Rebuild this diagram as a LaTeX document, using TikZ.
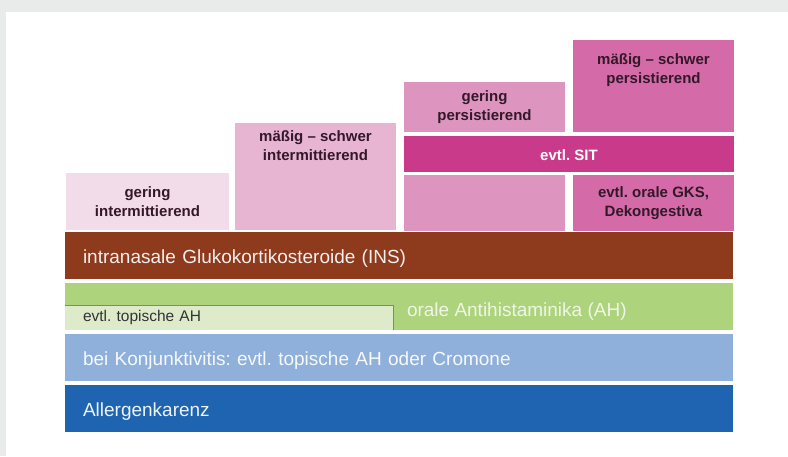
\documentclass[tikz,border=0pt]{standalone}
\usepackage{fontspec}
\setmainfont{Liberation Sans}
\usetikzlibrary{positioning}

\definecolor{hinter}{HTML}{E9EAEA}
\definecolor{gicol}{HTML}{F3DCE9}
\definecolor{micol}{HTML}{E7B5D1}
\definecolor{gpcol}{HTML}{DD95BF}
\definecolor{mpcol}{HTML}{D46BA8}
\definecolor{sitcol}{HTML}{C93A8B}
\definecolor{stufetext}{HTML}{33182A}
\definecolor{inscol}{HTML}{8E3A1D}
\definecolor{ahcol}{HTML}{ADD37D}
\definecolor{tahcol}{HTML}{DDEBCB}
\definecolor{tahrand}{HTML}{6F9A48}
\definecolor{konjcol}{HTML}{8FB0DA}
\definecolor{akcol}{HTML}{1F64B0}

\frenchspacing

\begin{document}
\begin{tikzpicture}[x=1pt,y=-1pt]
	\tikzstyle{every node}=[inner sep=0pt,outer sep=0pt]
	\tikzstyle{stufe}=[anchor=north west,rectangle]
	\tikzstyle{stufetxt}=[align=center,text=stufetext,
		font=\fontsize{15}{18.5}\selectfont\bfseries]
	\tikzstyle{band}=[anchor=north west,rectangle,minimum height=47pt,
		inner xsep=18pt,text width=632pt,align=left,
		text height=20pt,text depth=4pt,
		font=\fontsize{19}{22}\selectfont]
	
	% Hintergrund
	\fill[hinter] (0,0) rectangle (788,456);
	\fill[white] (6,12) rectangle (788,456);
	\useasboundingbox (0,0) rectangle (788,456);
	
	% Schweregrade
	\node[stufe,fill=gicol,minimum width=163pt,minimum height=57pt] (gi) at (66,173) {};
	\node[stufetxt] (gitxt) at (gi.center) {gering\\intermittierend};
	\node[stufe,fill=micol,minimum width=161pt,minimum height=107pt] (mi) at (235,123) {};
	\node[stufetxt,below=8pt of mi.north] (mitxt) {mäßig – schwer\\intermittierend};
	\node[stufe,fill=gpcol,minimum width=161pt,minimum height=50pt] (gp) at (404,82) {};
	\node[stufetxt] (gptxt) at (gp.center) {gering\\persistierend};
	\node[stufe,fill=mpcol,minimum width=161pt,minimum height=92pt] (mp) at (573,40) {};
	\node[stufetxt,below=14pt of mp.north] (mptxt) {mäßig – schwer\\persistierend};
	\node[stufe,fill=sitcol,minimum width=330pt,minimum height=36pt,
		text height=13pt,text depth=1pt,
		font=\fontsize{15}{18.5}\selectfont\bfseries,text=white] (sit) at (404,136) {evtl. SIT};
	\node[stufe,fill=gpcol,minimum width=161pt,minimum height=56pt] (gpu) at (404,175) {};
	\node[stufe,fill=mpcol,minimum width=161pt,minimum height=56pt] (gks) at (573,175) {};
	\node[stufetxt] (gkstxt) at (gks.center) {evtl. orale GKS,\\Dekongestiva};
	
	% Therapiestufen
	\node[band,fill=inscol,text=white!92!inscol] (ins) at (65,232) {intranasale Glukokortikosteroide (INS)};
	\node[band,fill=ahcol] (ah) at (65,283) {};
	\node[stufe,fill=tahcol,minimum height=25pt,inner xsep=18pt,text width=292pt,align=left,
		font=\fontsize{15.5}{18}\selectfont,text=black!80] (tah) at (65,305) {evtl. topische AH};
	\draw[tahrand,line width=0.8pt] (tah.north west) -- (tah.north east) -- (tah.south east);
	\node[right=14pt of tah.east,yshift=6pt,font=\fontsize{19}{22}\selectfont,
		text=white!80!ahcol] (ahtxt) {orale Antihistaminika (AH)};
	\node[band,fill=konjcol,text=white!92!konjcol] (konj) at (65,334) {bei Konjunktivitis: evtl. topische AH oder Cromone};
	\node[band,fill=akcol,text=white!92!akcol] (ak) at (65,385) {Allergenkarenz};
\end{tikzpicture}
\end{document}
